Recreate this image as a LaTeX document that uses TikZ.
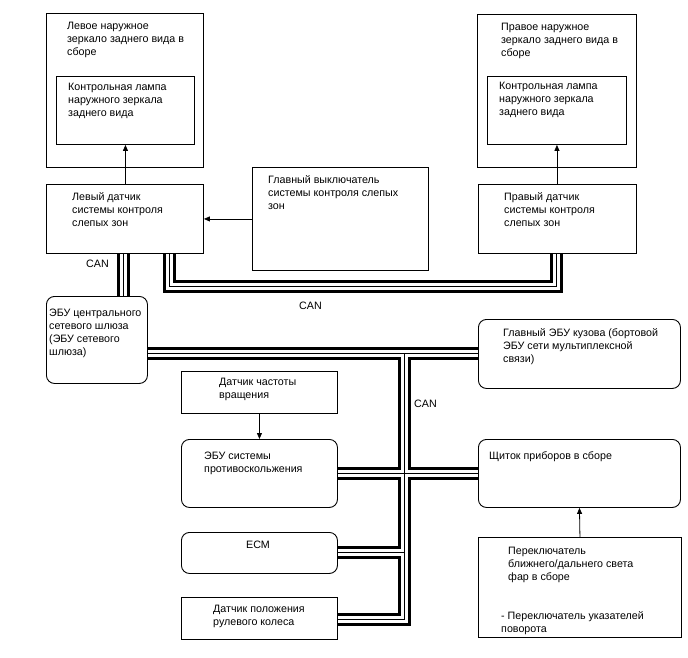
\documentclass[tikz,border=0pt]{standalone}
\usepackage{fontspec}
\setmainfont{Liberation Sans}
\usetikzlibrary{arrows.meta}

\begin{document}
\begin{tikzpicture}[x=1pt, y=-1pt,
    box/.style={rectangle, draw=black, line width=0.9pt, anchor=north west, inner sep=0pt},
    rbox/.style={box, rounded corners=8pt},
    txt/.style={anchor=north west, inner sep=0pt, align=left, font=\fontsize{10.7}{13}\selectfont},
    arrow/.style={-{Triangle[length=6pt, width=5pt]}, line width=0.8pt}
]
    \useasboundingbox (0,0) rectangle (688,658);

    \node[box, minimum width=157pt, minimum height=154pt] (lmir) at (46,13) {};
    \node[box, minimum width=138pt, minimum height=68pt] (lmirlamp) at (56,76) {};
    \node[box, minimum width=159pt, minimum height=153pt] (rmir) at (477,14) {};
    \node[box, minimum width=139pt, minimum height=68pt] (rmirlamp) at (487,76) {};
    \node[box, minimum width=157pt, minimum height=69pt] (lsens) at (46,184) {};
    \node[box, minimum width=176pt, minimum height=103pt] (bsw) at (252,167) {};
    \node[box, minimum width=158pt, minimum height=69pt] (rsens) at (478,184) {};
    \node[rbox, minimum width=101pt, minimum height=87pt] (gw) at (46,296) {};
    \node[rbox, minimum width=202pt, minimum height=69pt] (bcm) at (478,319) {};
    \node[rbox, minimum width=202pt, minimum height=68pt] (meter) at (478,439) {};
    \node[box, minimum width=203pt, minimum height=100pt] (hsw) at (478,537) {};
    \node[box, minimum width=156pt, minimum height=42pt] (spd) at (181,371) {};
    \node[rbox, minimum width=156pt, minimum height=68pt] (abs) at (181,439) {};
    \node[rbox, minimum width=156pt, minimum height=41pt] (ecm) at (181,532) {};
    \node[box, minimum width=156pt, minimum height=42pt] (steer) at (181,597) {};

    \node[txt] (lmirt) at (67,21.5) {Левое наружное\\зеркало заднего вида в\\сборе};
    \node[txt] (lmirlampt) at (68,82.5) {Контрольная лампа\\наружного зеркала\\заднего вида};
    \node[txt] (rmirt) at (501,22.5) {Правое наружное\\зеркало заднего вида в\\сборе};
    \node[txt] (rmirlampt) at (499,81.5) {Контрольная лампа\\наружного зеркала\\заднего вида};
    \node[txt] (lsenst) at (72,192.5) {Левый датчик\\системы контроля\\слепых зон};
    \node[txt] (bswt) at (268,175.5) {Главный выключатель\\системы контроля слепых\\зон};
    \node[txt] (rsenst) at (504,192.5) {Правый датчик\\системы контроля\\слепых зон};
    \node[txt] (gwt) at (49,308.5) {ЭБУ центрального\\сетевого шлюза\\(ЭБУ сетевого\\шлюза)};
    \node[txt] (bcmt) at (503,328.5) {Главный ЭБУ кузова (бортовой\\ЭБУ сети мультиплексной\\связи)};
    \node[txt] (metert) at (489,451.5) {Щиток приборов в сборе};
    \node[txt] (hswt) at (501,546.5) {\hspace*{7pt}Переключатель\\\hspace*{7pt}ближнего/дальнего света\\\hspace*{7pt}фар в сборе\\[26pt]- Переключатель указателей\\поворота};
    \node[txt] (spdt) at (219,377.5) {Датчик частоты\\вращения};
    \node[txt] (abst) at (204,451.5) {ЭБУ системы\\противоскольжения};
    \node[txt, anchor=north] (ecmt) at (258,540.5) {ECM};
    \node[txt] (steert) at (213,604.5) {Датчик положения\\рулевого колеса};

    \node[txt] (can1) at (86,259.5) {CAN};
    \node[txt] (can2) at (299,301.5) {CAN};
    \node[txt] (can3) at (414,399.5) {CAN};

    \coordinate (lcan) at (123,270);
    \coordinate (ring1) at (169,286);
    \coordinate (ring2) at (556,286);
    \coordinate (hub) at (404,353);
    \coordinate (j1) at (404,473);
    \coordinate (j2) at (404,552);
    \coordinate (tail) at (404,619);

    \foreach \bw/\bc in {13pt/black, 7pt/white, 0.8pt/black} {
        \draw[line width=\bw, draw=\bc] (lsens.south -| lcan) -- (gw.north -| lcan);
        \draw[line width=\bw, draw=\bc] (lsens.south -| ring1) -- (ring1) -- (ring2) -- (rsens.south -| ring2);
        \draw[line width=\bw, draw=\bc] (gw.east |- hub) -- (bcm.west |- hub);
        \draw[line width=\bw, draw=\bc] (hub) -- (tail) -- (steer.east |- tail);
        \draw[line width=\bw, draw=\bc] (abs.east |- j1) -- (meter.west |- j1);
        \draw[line width=\bw, draw=\bc] (ecm.east |- j2) -- (j2);
    }

    \draw[arrow] (lsens.north -| lmirlamp.south) -- (lmirlamp.south);
    \draw[arrow] (rsens.north -| rmirlamp.south) -- (rmirlamp.south);
    \draw[arrow] (bsw.west |- lsens.east) -- (lsens.east);
    \draw[arrow] (spd.south) -- (abs.north);
    \draw[arrow] (hsw.north) -- (meter.south);
\end{tikzpicture}
\end{document}
